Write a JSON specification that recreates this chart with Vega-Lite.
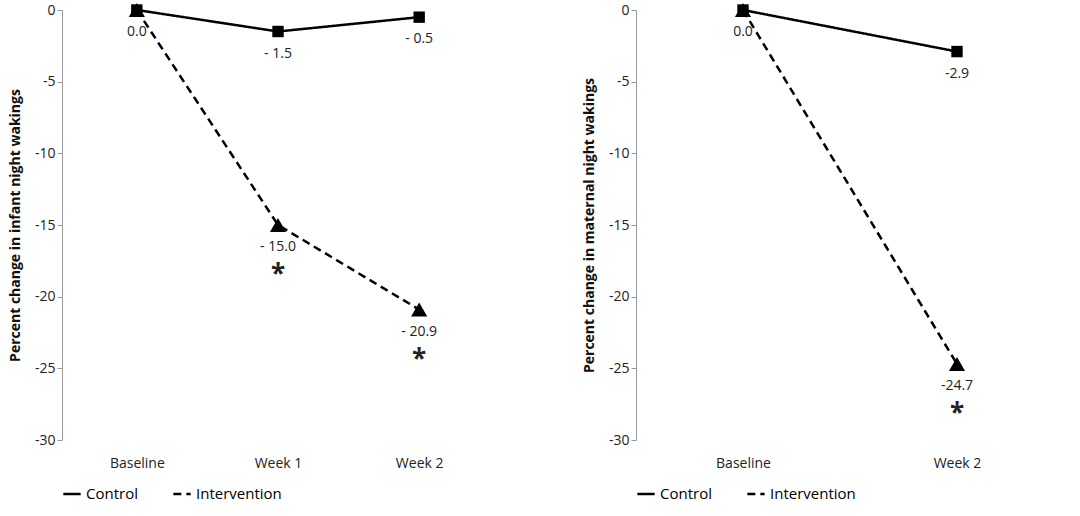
{
  "$schema": "https://vega.github.io/schema/vega-lite/v6.json",
  "padding": {"left": 8, "top": 3, "right": 10, "bottom": 2},
  "config": {
    "view": {"stroke": null},
    "font": "Open Sans",
    "axis": {"labelFont": "Open Sans", "titleFont": "Open Sans", "labelColor": "#222", "titleColor": "#111", "labelFontSize": 14},
    "legend": {"labelFontSize": 15, "labelFont": "Open Sans"}
  },
  "datasets": {
    "infant": [
      {"group": "Control", "time": "Baseline", "value": 0, "label": "0.0", "star": ""},
      {"group": "Control", "time": "Week 1", "value": -1.5, "label": "- 1.5", "star": ""},
      {"group": "Control", "time": "Week 2", "value": -0.5, "label": "- 0.5", "star": ""},
      {"group": "Intervention", "time": "Baseline", "value": 0, "label": "", "star": ""},
      {"group": "Intervention", "time": "Week 1", "value": -15.0, "label": "- 15.0", "star": "*"},
      {"group": "Intervention", "time": "Week 2", "value": -20.9, "label": "- 20.9", "star": "*"}
    ],
    "maternal": [
      {"group": "Control", "time": "Baseline", "value": 0, "label": "0.0", "star": ""},
      {"group": "Control", "time": "Week 2", "value": -2.9, "label": "-2.9", "star": ""},
      {"group": "Intervention", "time": "Baseline", "value": 0, "label": "", "star": ""},
      {"group": "Intervention", "time": "Week 2", "value": -24.7, "label": "-24.7", "star": "*"}
    ]
  },
  "spacing": 88,
  "resolve": {"legend": {"strokeDash": "independent"}},
  "hconcat": [
    {
      "width": 432, "height": 430,
      "data": {"name": "infant"},
      "encoding": {
        "x": {"field": "time", "type": "nominal", "sort": ["Baseline", "Week 1", "Week 2"], "scale": {"type": "point", "padding": 0.53},
          "axis": {"title": null, "labelAngle": 0, "domain": false, "ticks": false, "labelPadding": 16}},
        "y": {"field": "value", "type": "quantitative", "scale": {"domain": [-30, 0]},
          "axis": {"title": "Percent change in infant night wakings", "titleFontSize": 14, "grid": false, "values": [0, -5, -10, -15, -20, -25, -30], "labelExpr": "replace(datum.label, '−', '-')", "domainColor": "#999", "tickColor": "#999", "titlePadding": 12}}
      },
      "layer": [
        {"mark": {"type": "line", "color": "black", "strokeWidth": 2.5},
          "encoding": {"detail": {"field": "group"}, "strokeDash": {"field": "group", "scale": {"domain": ["Control", "Intervention"], "range": [[1, 0], [8, 5]]}, "legend": {"orient": "bottom", "title": null, "direction": "horizontal", "symbolStrokeWidth": 2.5, "symbolSize": 300, "symbolType": "stroke", "offset": 14, "columnPadding": 30}}}},
        {"mark": {"type": "point", "filled": true, "color": "black", "opacity": 1},
          "encoding": {"shape": {"field": "group", "scale": {"domain": ["Control", "Intervention"], "range": ["square", "triangle-up"]}, "legend": null},
            "size": {"field": "group", "scale": {"domain": ["Control", "Intervention"], "range": [130, 260]}, "legend": null}}},
        {"mark": {"type": "text", "dy": 22, "fontSize": 14, "color": "#222"}, "encoding": {"text": {"field": "label"}}},
        {"mark": {"type": "text", "dy": 50, "fontSize": 26, "fontWeight": "bold", "color": "#222"}, "encoding": {"text": {"field": "star"}}}
      ]
    },
    {
      "width": 428, "height": 430,
      "data": {"name": "maternal"},
      "encoding": {
        "x": {"field": "time", "type": "nominal", "sort": ["Baseline", "Week 2"], "scale": {"type": "point", "padding": 0.5},
          "axis": {"title": null, "labelAngle": 0, "domain": false, "ticks": false, "labelPadding": 16}},
        "y": {"field": "value", "type": "quantitative", "scale": {"domain": [-30, 0]},
          "axis": {"title": "Percent change in maternal night wakings", "titleFontSize": 14, "grid": false, "values": [0, -5, -10, -15, -20, -25, -30], "labelExpr": "replace(datum.label, '−', '-')", "domainColor": "#999", "tickColor": "#999", "titlePadding": 12}}
      },
      "layer": [
        {"mark": {"type": "line", "color": "black", "strokeWidth": 2.5},
          "encoding": {"detail": {"field": "group"}, "strokeDash": {"field": "group", "scale": {"domain": ["Control", "Intervention"], "range": [[1, 0], [8, 5]]}, "legend": {"orient": "bottom", "title": null, "direction": "horizontal", "symbolStrokeWidth": 2.5, "symbolSize": 300, "symbolType": "stroke", "offset": 14, "columnPadding": 30}}}},
        {"mark": {"type": "point", "filled": true, "color": "black", "opacity": 1},
          "encoding": {"shape": {"field": "group", "scale": {"domain": ["Control", "Intervention"], "range": ["square", "triangle-up"]}, "legend": null},
            "size": {"field": "group", "scale": {"domain": ["Control", "Intervention"], "range": [130, 260]}, "legend": null}}},
        {"mark": {"type": "text", "dy": 22, "fontSize": 14, "color": "#222"}, "encoding": {"text": {"field": "label"}}},
        {"mark": {"type": "text", "dy": 50, "fontSize": 26, "fontWeight": "bold", "color": "#222"}, "encoding": {"text": {"field": "star"}}}
      ]
    }
  ]
}
